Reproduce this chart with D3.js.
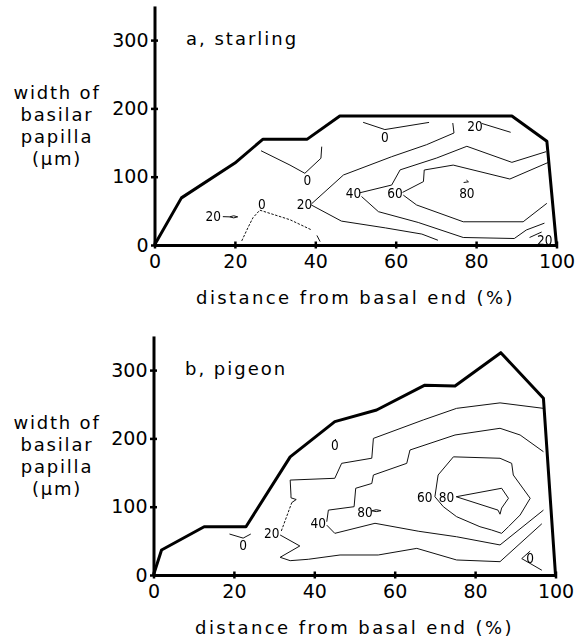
<!DOCTYPE html>
<html>
<head>
<meta charset="utf-8">
<script src="https://cdn.jsdelivr.net/npm/d3@7"></script>
<style>
  body { margin: 0; background: #fff; }
  svg { display: block; }
  text { font-family: "DejaVu Sans", sans-serif; fill: #000; }
  .clab { font-family: "Liberation Sans Narrow", "DejaVu Sans Condensed", sans-serif; font-size: 13.5px; }
</style>
</head>
<body>
<svg id="chart" width="588" height="643"></svg>
<script>
// ---- shared axis values and text ----
const xTicks = [0, 20, 40, 60, 80, 100];
const yTicks = [0, 100, 200, 300];
const yMax = 350;
const yLabelLines = ["width of", "basilar", "papilla", "(µm)"];
const xTitle = "distance from basal end (%)";

// ---- starling: papilla outline (position %, width µm) ----
const starlingOutline = [[0,0],[6.7,69],[20,120],[27,155],[38,155],[46.1,189],[88.9,189],[97.6,152],[100,0]];

// starling iso-lines
const starlingContours = [
  { level: 0,  points: [[51.9,179.6],[57.3,169],[68.3,179.5]] },
  { level: 0,  points: [[26.5,138],[33.7,117],[37.4,105],[41.4,127],[41.6,144]] },
  { level: 0,  dashed: true, points: [[21.7,6],[23.3,26],[24.5,40],[26.2,51],[33.7,37],[39.1,22]] },
  { level: 0,  points: [[40.4,14],[41.2,5]] },
  { level: 20, points: [[17.0,41.5],[18.7,41.2],[19.7,42.8],[20.7,41.2],[19.7,39.7],[18.7,41.2]] },
  { level: 20, points: [[39.1,60.5],[47,102.5],[59,129.3],[67.7,146.9],[74.5,164],[74.2,178.6]] },
  { level: 20, points: [[39,58.6],[46.5,35],[57.5,25],[66.5,16],[70.5,7]] },
  { level: 20, points: [[81.4,178],[88.6,165]] },
  { level: 20, points: [[93.3,11],[96.3,19]] },
  { level: 40, points: [[51.1,76.5],[59,87.8],[61.1,110],[70.2,127.4],[77.7,144.5],[88.9,121],[97.4,136.6]] },
  { level: 40, points: [[51.5,71],[55.7,48.8],[65.6,33],[76.8,11],[89.5,9.5],[92.5,22],[97,32]] },
  { level: 60, points: [[61.7,77],[66.9,92.8],[67.1,109.8],[74.3,117],[88.4,96.6],[98,121]] },
  { level: 60, points: [[61.9,73],[65.2,58.6],[76.8,34],[91.7,34],[97.6,61]] },
  { level: 80, points: [[76.9,91.5],[78.1,92.5],[77.6,95]] }
];

const starlingLabels = [
  { text: "0",  x: 57.3, y: 158 },
  { text: "0",  x: 38,   y: 95 },
  { text: "0",  x: 26.7, y: 60 },
  { text: "20", x: 14.6, y: 42.5 },
  { text: "20", x: 37.3, y: 59.6 },
  { text: "40", x: 49.5, y: 75.7 },
  { text: "60", x: 59.8, y: 75.7 },
  { text: "80", x: 77.7, y: 76.6 },
  { text: "20", x: 79.7, y: 174.7 },
  { text: "20", x: 97.1, y: 7.3 }
];

// ---- pigeon: papilla outline ----
const pigeonOutline = [[0,0],[2,36.6],[12.6,70.7],[23,70.7],[34,173],[45.1,224.5],[55.5,241.6],[67.5,278],[75,276.7],[86.4,325.5],[97,258.7],[100,0]];

// pigeon iso-lines
const pigeonContours = [
  { level: 0,  points: [[18.9,60],[22.3,54],[24.2,60]] },
  { level: 0,  points: [[44.9,196.5],[45.4,199]] },
  { level: 0,  points: [[93.7,35],[91.6,24],[96.6,7]] },
  { level: 20, dashed: true, points: [[31.8,64.5],[34.4,106]] },
  { level: 20, points: [[34.4,106],[35.5,110.5],[34.2,113],[34.2,117],[34,139],[45.1,141.6],[46.8,163.5],[54.3,171],[54.7,200],[67.1,227],[75.4,244],[86.2,252],[97,244]] },
  { level: 20, points: [[31.5,58.6],[36.4,42.5],[31.5,25.9],[34,21],[38.5,23],[46.4,29.3],[55.9,29.3],[65.5,39],[75.4,22],[86.2,19.5],[96.6,75]] },
  { level: 40, points: [[43.1,78],[43.5,95],[49.9,100],[50.3,127],[54.3,134],[54.7,146.4],[63,163.5],[63.8,183],[75,205],[86.2,214.8],[91.2,205],[97,180.5]] },
  { level: 40, points: [[43.1,73],[45.1,61],[55.1,75.7],[66,64],[75.4,56],[86.2,44],[97,95]] },
  { level: 60, points: [[70,114.6],[70.8,146.4],[74.6,173],[86.2,170.9],[89.1,163.5],[89.5,146.4],[93.7,112.3],[91.2,87.8],[88.3,70.7],[86.6,61],[84.1,65.9],[81.2,70.7],[75.4,85.4],[72.1,100],[70,114.6]] },
  { level: 80, points: [[75.3,114.6],[86.6,127],[88.3,112.3],[86.6,98],[86.2,89],[85.7,95],[75.3,114.6]] },
  { level: 80, points: [[54.3,94],[55.4,95.6],[56.6,94.2],[55.4,92.8],[54.3,94]] }
];

const pigeonLabels = [
  { text: "0",  x: 45.1, y: 190 },
  { text: "0",  x: 22.3, y: 44 },
  { text: "20", x: 29.4, y: 61 },
  { text: "40", x: 41,   y: 75.7 },
  { text: "80", x: 52.6, y: 92.7 },
  { text: "60", x: 67.5, y: 114.6 },
  { text: "80", x: 72.9, y: 114.6 },
  { text: "0",  x: 93.7, y: 25 }
];

// ---- layout ----
const panels = [
  { title: "a, starling", outline: starlingOutline, contours: starlingContours, labels: starlingLabels,
    left: 154.5, right: 556.5, base: 245 },
  { title: "b, pigeon", outline: pigeonOutline, contours: pigeonContours, labels: pigeonLabels,
    left: 153.5, right: 555.5, base: 575 }
];
const pxPerMicron = 0.683;

const svg = d3.select("#chart");

// pass-through filter so small labels are rasterised in greyscale
svg.append("defs").append("filter").attr("id", "flat")
  .append("feOffset").attr("dx", 0).attr("dy", 0);

panels.forEach(p => {
  const x = d3.scaleLinear().domain([0, 100]).range([p.left, p.right]);
  const y = d3.scaleLinear().domain([0, yMax]).range([p.base, p.base - yMax * pxPerMicron]);
  const g = svg.append("g");
  const line = d3.line().x(d => x(d[0])).y(d => y(d[1]));

  // contour lines
  g.selectAll("path.iso").data(p.contours).join("path")
    .attr("class", "iso")
    .attr("d", d => line(d.points))
    .attr("fill", "none")
    .attr("stroke", "#111")
    .attr("stroke-width", 1)
    .attr("stroke-linejoin", "round")
    .attr("stroke-dasharray", d => d.dashed ? "2.5,1.5" : null);

  // papilla outline
  g.append("path")
    .attr("d", line(p.outline))
    .attr("fill", "none")
    .attr("stroke", "#000")
    .attr("stroke-width", 3)
    .attr("stroke-linejoin", "round");

  // contour labels
  g.append("g").attr("filter", "url(#flat)")
    .selectAll("text").data(p.labels).join("text")
    .attr("class", "clab")
    .attr("x", d => x(d.x))
    .attr("y", d => y(d.y))
    .attr("text-anchor", "middle")
    .attr("dominant-baseline", "central")
    .text(d => d.text);

  // y axis
  const yAxis = g.append("g")
    .attr("transform", `translate(${p.left},0)`)
    .call(d3.axisLeft(y).tickValues(yTicks).tickFormat(d3.format("d"))
      .tickSizeInner(3).tickSizeOuter(0).tickPadding(3));
  yAxis.select(".domain").attr("stroke-width", 3);
  yAxis.selectAll(".tick line").attr("x1", -3.5).attr("x2", 3.5).attr("stroke-width", 2.5);
  yAxis.selectAll(".tick text").style("font-size", "19px").attr("font-family", null);

  // x axis
  const xAxis = g.append("g")
    .attr("transform", `translate(0,${p.base})`)
    .call(d3.axisBottom(x).tickValues(xTicks).tickFormat(d3.format("d"))
      .tickSizeInner(3).tickSizeOuter(0).tickPadding(7));
  xAxis.select(".domain").attr("stroke-width", 3);
  xAxis.selectAll(".tick line").attr("y1", -3.5).attr("y2", 3.5).attr("stroke-width", 2.5);
  xAxis.selectAll(".tick text").style("font-size", "19px").attr("font-family", null);

  // panel title
  g.append("text")
    .attr("x", p.left + 31.5)
    .attr("y", p.base - 200)
    .style("font-size", "18px")
    .style("letter-spacing", "2px")
    .text(p.title);

  // y axis title (stacked lines)
  g.append("g").selectAll("text").data(yLabelLines).join("text")
    .attr("x", 57)
    .attr("y", (d, i) => p.base - 146 + i * 22)
    .attr("text-anchor", "middle")
    .style("font-size", "18px")
    .style("letter-spacing", "1.8px")
    .text(d => d);

  // x axis title
  g.append("text")
    .attr("x", (p.left + p.right) / 2)
    .attr("y", p.base + 59)
    .attr("text-anchor", "middle")
    .style("font-size", "18px")
    .style("letter-spacing", "2.4px")
    .text(xTitle);
});
</script>
</body>
</html>
